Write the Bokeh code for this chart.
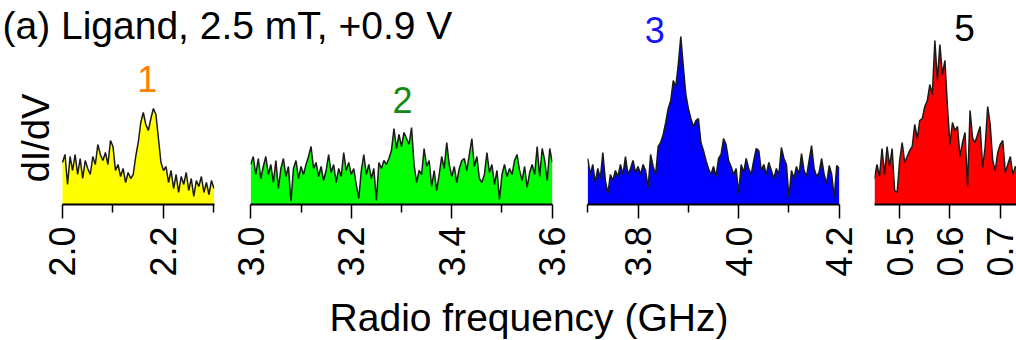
import math
import numpy as np
from bokeh.plotting import figure
from bokeh.layouts import row, column
from bokeh.models import Range1d, FixedTicker, PrintfTickFormatter, Label
from bokeh.embed import file_html
from bokeh.resources import INLINE

# ---------------- data ----------------
title_text = "(a) Ligand, 2.5 mT, +0.9 V"
x_label = "Radio frequency (GHz)"
y_label = "dI/dV"

peak_labels = ["1", "2", "3", "5"]

# panel 1 (yellow): 2.000 - 2.300 GHz, 0.005 GHz step
p1_range = (2.000, 2.300)
p1_signal = [42, 50, 20, 48, 34, 50, 30, 46, 26, 44,
             36, 30, 48, 40, 60, 50, 44, 52, 40, 64,
             58, 34, 40, 28, 36, 22, 32, 26, 30, 48,
             62, 82, 92, 80, 74, 86, 96, 90, 66, 42,
             34, 38, 22, 34, 16, 30, 12, 28, 20, 32,
             14, 26, 8, 24, 18, 28, 12, 22, 10, 24, 16]

# panel 2 (green): 3.000 - 3.600 GHz
p2_range = (3.000, 3.600)
p2_signal = [40, 48, 30, 46, 26, 38, 48, 30, 40, 22,
             44, 16, 36, 46, 28, 38, 3, 36, 44, 26,
             38, 30, 40, 48, 58, 36, 42, 28, 38, 24,
             34, 50, 32, 40, 22, 36, 28, 52, 34, 42,
             30, 36, 20, 6, 34, 50, 30, 40, 26, 36,
             4, 42, 36, 44, 40, 46, 54, 76, 56, 70,
             58, 72, 66, 60, 77, 40, 22, 34, 30, 56,
             38, 44, 18, 34, 14, 30, 48, 36, 62, 40,
             28, 38, 22, 36, 44, 46, 34, 50, 66, 38,
             48, 26, 22, 30, 52, 32, 40, 20, 34, 5,
             30, 40, 28, 36, 30, 44, 50, 34, 24, 38,
             17, 32, 40, 30, 58, 28, 56, 44, 24, 56, 42]

# panel 3 (blue): 3.700 - 4.200 GHz
p3_range = (3.700, 4.200)
p3_signal = [46, 30, 40, 22, 36, 26, 52, 24, 11, 30,
             24, 34, 28, 40, 30, 48, 30, 36, 44, 32,
             38, 30, 40, 34, 17, 50, 38, 30, 58, 62,
             70, 82, 96, 104, 124, 118, 140, 168, 138, 110,
             96, 86, 78, 84, 86, 62, 54, 44, 36, 30,
             38, 28, 46, 50, 66, 60, 44, 38, 30, 36,
             11, 40, 32, 46, 36, 30, 44, 56, 54, 34,
             40, 30, 42, 34, 26, 36, 30, 57, 46, 40,
             7, 34, 26, 38, 30, 51, 34, 28, 44, 59,
             36, 28, 32, 46, 30, 21, 39, 30, 7, 39, 36]

# panel 4 (red): 0.450 - 0.735 GHz
p4_range = (0.450, 0.735)
p4_signal = [26, 40, 28, 56, 30, 58, 38, 56, 14, 12,
             44, 62, 42, 48, 54, 58, 80, 66, 84, 86,
             98, 104, 120, 110, 164, 124, 160, 130, 144, 98,
             60, 82, 74, 78, 48, 62, 72, 18, 94, 66,
             62, 70, 78, 37, 58, 98, 80, 44, 34, 52,
             60, 64, 32, 40, 48, 30, 38, 34]

# ---------------- styling helpers ----------------
FONT = "Liberation Sans"
LINE_COLOR = "#1a1a1a"


def blank_fig(width, height):
    p = figure(width=width, height=height,
               x_range=Range1d(0, width), y_range=Range1d(0, height),
               output_backend="svg", toolbar_location=None,
               x_axis_location=None, y_axis_location=None, min_border=0)
    p.outline_line_color = None
    p.xgrid.visible = False
    p.ygrid.visible = False
    return p


def make_panel(frange, signal, fill, xr, major, minor, width, height,
               left, right, top, bottom=82, bounds="auto"):
    freq = np.linspace(frange[0], frange[1], len(signal))
    frame_h = height - top - bottom
    p = figure(width=width, height=height,
               x_range=Range1d(*xr), y_range=Range1d(0, frame_h),
               output_backend="svg", toolbar_location=None,
               y_axis_location=None,
               min_border_left=left, min_border_right=right,
               min_border_top=top, min_border_bottom=bottom)
    p.outline_line_color = None
    p.xgrid.visible = False
    p.ygrid.visible = False
    p.varea(x=freq, y1=0, y2=signal, fill_color=fill)
    p.line(freq, signal, line_color=LINE_COLOR, line_width=1.5)
    ax = p.xaxis[0]
    ax.bounds = bounds
    ax.ticker = FixedTicker(ticks=major, minor_ticks=minor)
    ax.formatter = PrintfTickFormatter(format="%.1f")
    ax.major_label_orientation = math.pi / 2
    ax.major_label_text_font = FONT
    ax.major_label_text_font_size = "36px"
    ax.major_label_text_color = "black"
    ax.major_label_standoff = 8
    ax.axis_line_color = "black"
    ax.axis_line_width = 2
    ax.major_tick_line_color = "black"
    ax.major_tick_line_width = 1.5
    ax.major_tick_in = 0
    ax.major_tick_out = 14
    ax.minor_tick_line_color = "black"
    ax.minor_tick_line_width = 1.5
    ax.minor_tick_in = 0
    ax.minor_tick_out = 8
    return p


def add_text(p, x, y, text, color="black", size="36px", angle=0.0,
             align="center", baseline="alphabetic"):
    p.add_layout(Label(x=x, y=y, text=text, text_color=color,
                       text_font=FONT, text_font_size=size,
                       text_align=align, text_baseline=baseline,
                       angle=angle))


# spectra panels (panel 1 frame reaches the left edge so that the
# y label and the first tick label sit inside its canvas)
P1_PX_PER_GHZ = 505.0
p1_x_start = 2.301 - 214 / P1_PX_PER_GHZ
f1 = make_panel(p1_range, p1_signal, "#ffff00", (p1_x_start, 2.301),
                [2.0, 2.2], [2.1, 2.3], 232, 236, 0, 18, 0,
                bounds=(1.9995, 2.301))
f2 = make_panel(p2_range, p2_signal, "#00ff00", (2.9995, 3.6005),
                [3.0, 3.2, 3.4, 3.6], [3.1, 3.3, 3.5], 342, 236, 18, 22, 0)
f3 = make_panel(p3_range, p3_signal, "#0000ff", (3.6995, 4.2005),
                [3.8, 4.0, 4.2], [3.7, 3.9, 4.1], 287, 286, 13, 22, 6)
f4 = make_panel(p4_range, p4_signal, "#ff0000", (0.4500, 0.7323),
                [0.5, 0.6, 0.7], [], 155, 286, 13, 0, 6)

add_text(f1, 2.168, 126, peak_labels[0], color="#ff8000")
add_text(f2, 3.302, 105, peak_labels[1], color="#138a13")
add_text(f3, 3.833, 175, peak_labels[2], color="#1414ff")
add_text(f4, 0.629, 177, peak_labels[3], color="black", size="37px")

# y label inside panel 1's canvas (left of its spectrum)
add_text(f1, p1_x_start + 35 / P1_PX_PER_GHZ, 66.5, y_label, size="38px",
         angle=math.pi / 2, baseline="middle")

# title strip
t = blank_fig(574, 50)
add_text(t, 2, 25, title_text, size="39px", align="left")

# bottom strip with shared axis label
b = blank_fig(1016, 54)
add_text(b, 528.5, 23, x_label, size="39px")

layout = column(row(column(t, row(f1, f2)), f3, f4), b)

open("out.html", "w").write(file_html(layout, INLINE))
